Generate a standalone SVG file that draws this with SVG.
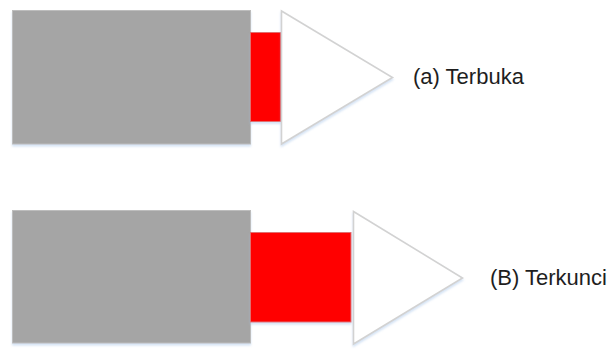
<svg xmlns="http://www.w3.org/2000/svg" width="611" height="349" viewBox="0 0 611 349">
<defs>
<filter id="sh" x="-10%" y="-10%" width="120%" height="130%">
<feGaussianBlur in="SourceAlpha" stdDeviation="1.2"/>
<feOffset dx="0" dy="2" result="b"/>
<feFlood flood-color="#9fc0e8" flood-opacity="0.45"/>
<feComposite in2="b" operator="in"/>
<feMerge><feMergeNode/><feMergeNode in="SourceGraphic"/></feMerge>
</filter>
</defs>
<style>
.body{fill:#a5a5a5;stroke:#bdbdbd;stroke-width:1;filter:url(#sh)}
.plug{fill:#ff0000;stroke:#e07070;stroke-width:1;filter:url(#sh)}
.tip{fill:#ffffff;stroke:#d2d2d2;stroke-width:1.6;stroke-linejoin:miter;filter:url(#sh)}
.lbl{font-family:"Liberation Sans",Arial,sans-serif;font-size:22px;fill:#1e1e1e}
</style>
<rect width="611" height="349" fill="#ffffff"/>
<g id="lock-open">
<rect class="body" x="12.5" y="10.5" width="238" height="133.5"/>
<rect class="plug" x="250.5" y="32.5" width="30.5" height="89"/>
<polygon class="tip" points="281.5,11 392.5,77.5 281.5,144"/>
<text class="lbl" x="413" y="84">(a) Terbuka</text>
</g>
<g id="lock-closed">
<rect class="body" x="12.5" y="210.5" width="238" height="132.5"/>
<rect class="plug" x="250.5" y="232.5" width="100.5" height="89.5"/>
<polygon class="tip" points="353.5,211.5 462.5,278 353.5,344"/>
<text class="lbl" x="490" y="285">(B) Terkunci</text>
</g>
<g id="connectors"/>
</svg>
